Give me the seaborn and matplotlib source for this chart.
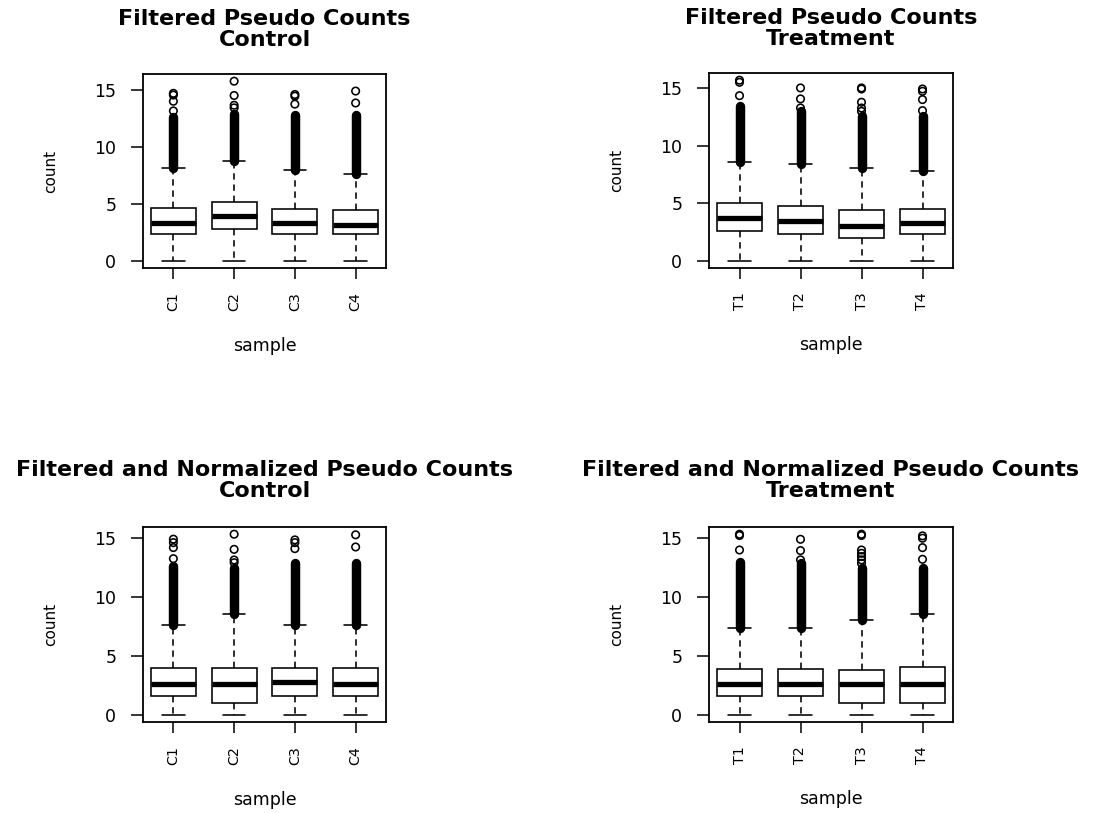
import numpy as np
import pandas as pd
import matplotlib
matplotlib.use("Agg")
import matplotlib.pyplot as plt
import seaborn as sns

# ---------------- data ----------------
ctrl_samples = ["C1", "C2", "C3", "C4"]
trt_samples = ["T1", "T2", "T3", "T4"]

# Filtered pseudo counts - Control
fc_lo = [0.0, 0.0, 0.0, 0.0]
fc_q1 = [2.32, 2.79, 2.32, 2.32]
fc_med = [3.35, 3.94, 3.35, 3.18]
fc_q3 = [4.65, 5.20, 4.59, 4.44]
fc_hi = [8.18, 8.82, 8.00, 7.68]
fc_dense = [12.70, 12.90, 12.80, 12.80]
fc_out = [[13.20, 14.05, 14.60, 14.75],
          [13.47, 13.70, 14.56, 15.82],
          [13.80, 14.50, 14.65],
          [13.90, 14.95]]

# Filtered pseudo counts - Treatment
ft_lo = [0.0, 0.0, 0.0, 0.0]
ft_q1 = [2.55, 2.32, 1.97, 2.32]
ft_med = [3.71, 3.48, 2.98, 3.27]
ft_q3 = [4.98, 4.78, 4.37, 4.52]
ft_hi = [8.60, 8.40, 8.02, 7.82]
ft_dense = [13.40, 12.97, 12.54, 12.54]
ft_out = [[14.33, 15.49, 15.67],
          [13.26, 14.05, 15.00],
          [12.97, 13.26, 13.76, 14.91, 15.00],
          [13.03, 13.99, 14.71, 14.91]]

# Filtered and normalized pseudo counts - Control
nc_lo = [0.0, 0.0, 0.0, 0.0]
nc_q1 = [1.62, 1.02, 1.62, 1.62]
nc_med = [2.61, 2.61, 2.81, 2.61]
nc_q3 = [4.00, 4.00, 4.00, 4.00]
nc_hi = [7.63, 8.53, 7.63, 7.63]
nc_dense = [12.59, 12.45, 12.87, 12.87]
nc_out = [[13.21, 14.15, 14.57, 14.86],
          [12.87, 13.10, 14.00, 15.28],
          [14.06, 14.57, 14.80],
          [14.20, 15.23]]

# Filtered and normalized pseudo counts - Treatment
nt_lo = [0.0, 0.0, 0.0, 0.0]
nt_q1 = [1.59, 1.59, 1.02, 1.02]
nt_med = [2.61, 2.61, 2.61, 2.61]
nt_q3 = [3.91, 3.91, 3.80, 4.03]
nt_hi = [7.40, 7.40, 8.05, 8.53]
nt_dense = [13.00, 12.87, 12.45, 12.45]
nt_out = [[14.00, 15.23, 15.34],
          [13.16, 13.95, 14.91],
          [12.87, 13.16, 13.44, 13.72, 14.00, 15.23, 15.34],
          [13.21, 14.20, 15.00, 15.20]]

titles = ["Filtered Pseudo Counts\nControl",
          "Filtered Pseudo Counts\nTreatment",
          "Filtered and Normalized Pseudo Counts\nControl",
          "Filtered and Normalized Pseudo Counts\nTreatment"]

# ---------------- style ----------------
sns.set_theme(style="ticks")
plt.rcParams["font.family"] = ["DejaVu Sans"]
plt.rcParams["axes.linewidth"] = 1.2
plt.rcParams["axes.edgecolor"] = "black"
plt.rcParams["text.color"] = "black"
plt.rcParams["axes.labelcolor"] = "black"
plt.rcParams["xtick.color"] = "black"
plt.rcParams["ytick.color"] = "black"
plt.rcParams["xtick.labelcolor"] = "black"
plt.rcParams["ytick.labelcolor"] = "black"

W, H = 1093, 813
fig = plt.figure(figsize=(W / 100, H / 100), dpi=100)


def ax_at(l, t, r, b):
    return fig.add_axes([l / W, 1 - b / H, (r - l) / W, (b - t) / H])


def draw(ax, title, samples, lo, q1, med, q3, hi, dense, outl, tpad):
    rows = []
    for s, a, b, c, d, e in zip(samples, lo, q1, med, q3, hi):
        for v in (a, b, c, d, e):
            rows.append((s, v))
    df = pd.DataFrame(rows, columns=["sample", "count"])
    sns.boxplot(data=df, x="sample", y="count", order=samples, whis=(0, 100),
                width=0.74, color="white", linecolor="black", linewidth=1.15,
                showfliers=False, medianprops=dict(linewidth=3.8),
                whiskerprops=dict(linestyle=(0, (4, 3))), ax=ax)
    pos = np.arange(len(samples))
    ax.vlines(pos, hi, dense, colors="black", linewidth=6.8,
              capstyle="round", zorder=3)
    out_df = pd.DataFrame([(s, v) for s, vals in zip(samples, outl) for v in vals],
                          columns=["sample", "count"])
    sns.stripplot(data=out_df, x="sample", y="count", order=samples, jitter=False,
                  size=5.4, color="black", facecolor="none", edgecolor="black",
                  linewidth=1.15, ax=ax, zorder=4)
    top = max(max(v) for v in outl)
    ax.set_ylim(-0.04 * top, 1.04 * top)
    ax.set_xlim(-0.5, len(samples) - 0.5)
    ax.set_yticks([0, 5, 10, 15])
    ax.tick_params(axis="y", length=9, width=1.1, pad=10.3, labelsize=12.5,
                   colors="black")
    ax.tick_params(axis="x", length=7.9, width=1.1, pad=9.4, labelsize=10.3,
                   labelrotation=90, colors="black")
    for sp in ax.spines.values():
        sp.set_visible(True)
        sp.set_linewidth(1.3)
        sp.set_color("black")
    ax.set_ylabel("count", fontsize=11, labelpad=26, color="black")
    ax.set_xlabel("sample", fontsize=12.5, labelpad=19, color="black")
    ax.set_title(title, fontsize=16, fontweight="bold", pad=tpad,
                 linespacing=1.05, color="black")


ax1 = ax_at(143, 74, 386, 268)
ax2 = ax_at(709, 73, 953, 268)
ax3 = ax_at(143, 527, 386, 722)
ax4 = ax_at(709, 527, 953, 722)

draw(ax1, titles[0], ctrl_samples, fc_lo, fc_q1, fc_med, fc_q3, fc_hi, fc_dense, fc_out, 20.4)
draw(ax2, titles[1], trt_samples, ft_lo, ft_q1, ft_med, ft_q3, ft_hi, ft_dense, ft_out, 20.4)
draw(ax3, titles[2], ctrl_samples, nc_lo, nc_q1, nc_med, nc_q3, nc_hi, nc_dense, nc_out, 21.6)
draw(ax4, titles[3], trt_samples, nt_lo, nt_q1, nt_med, nt_q3, nt_hi, nt_dense, nt_out, 21.6)

fig.savefig("out.png", dpi=100, facecolor="white")
